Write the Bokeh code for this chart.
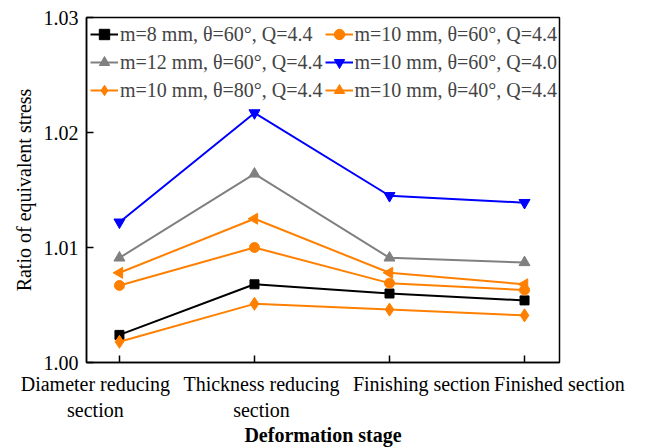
import math
from bokeh.plotting import figure
from bokeh.models import FixedTicker, Legend, LegendItem, LinearAxis
from bokeh.embed import file_html
from bokeh.resources import INLINE

# ---- data ----
stages = ["Diameter reducing\nsection", "Thickness reducing\nsection",
          "Finishing section", "Finished section"]
stage_idx = [0, 1, 2, 3]

m8_t60_q44 = [1.0024, 1.0068, 1.0060, 1.0054]
m10_t60_q44 = [1.0067, 1.0100, 1.0069, 1.0063]
m12_t60_q44 = [1.0091, 1.0164, 1.0091, 1.0087]
m10_t60_q40 = [1.0122, 1.0217, 1.0145, 1.0139]
m10_t80_q44 = [1.0018, 1.0051, 1.0046, 1.0041]
m10_t40_q44 = [1.0078, 1.0125, 1.0078, 1.0068]

labels = ["m=8 mm, θ=60°, Q=4.4", "m=10 mm, θ=60°, Q=4.4",
          "m=12 mm, θ=60°, Q=4.4", "m=10 mm, θ=60°, Q=4.0",
          "m=10 mm, θ=80°, Q=4.4", "m=10 mm, θ=40°, Q=4.4"]
y_ticks = [1.00, 1.01, 1.02, 1.03]

# layout: horizontal shift of each category's label text (in category units)
label_shift = [-0.178, 0.052, 0.237, 0.258]

FONT = "Liberation Serif"
ORANGE = "#FF8000"

p = figure(width=646, height=448, x_range=(-0.244, 3.259), y_range=(1.0, 1.03),
           output_backend="svg", toolbar_location=None,
           min_border_left=86, min_border_right=87, min_border_top=17,
           min_border_bottom=83)
p.grid.visible = False
p.outline_line_color = "black"
p.outline_line_width = 1.5
p.background_fill_color = "white"
p.border_fill_color = "white"

series = [
    (m8_t60_q44, "black", "square", 9, 0.0),
    (m10_t60_q44, ORANGE, "circle", 10, 0.0),
    (m12_t60_q44, "#808080", "triangle", 11, 0.0),
    (m10_t60_q40, "#0000FF", "inverted_triangle", 11, 0.0),
    (m10_t80_q44, ORANGE, "diamond", 13, 0.0),
    (m10_t40_q44, ORANGE, "triangle", 11, math.pi / 2),
]

items = []
for (vals, col, mk, sz, ang), lab in zip(series, labels):
    ln = p.line(stage_idx, vals, line_color=col, line_width=2)
    sc = p.scatter(stage_idx, vals, marker=mk, size=sz, angle=ang,
                   angle_units="rad", fill_color=col, line_color=col)
    items.append(LegendItem(label=lab, renderers=[ln, sc]))

# column-major order for 2 columns: col1 = items 0,2,4 ; col2 = 1,3,5
ordered = [items[0], items[2], items[4], items[1], items[3], items[5]]
legend = Legend(items=ordered, ncols=2, location="top_left",
                label_text_font=FONT, label_text_font_size="20px",
                label_standoff=2, glyph_width=28, glyph_height=26,
                label_height=26, spacing=2, padding=4, margin=0,
                border_line_alpha=0, background_fill_alpha=0)
p.add_layout(legend, "center")

def style_axis(ax):
    ax.axis_line_color = "black"
    ax.axis_line_width = 1.5
    ax.major_tick_line_color = "black"
    ax.major_tick_line_width = 1.5
    ax.major_tick_in = 7
    ax.major_tick_out = 0
    ax.minor_tick_line_color = None
    ax.major_label_text_font = FONT
    ax.major_label_text_font_size = "20px"
    ax.major_label_text_color = "black"
    ax.axis_label_text_font = FONT
    ax.axis_label_text_font_size = "20px"
    ax.axis_label_text_color = "black"

style_axis(p.xaxis[0])
style_axis(p.yaxis[0])

# main x axis: ticks only
p.xaxis[0].ticker = FixedTicker(ticks=stage_idx)
p.xaxis[0].major_label_overrides = {i: "" for i in stage_idx}
p.xaxis[0].major_label_standoff = 0
p.xaxis[0].major_label_text_font_size = "1px"

# second x axis below: the category texts, placed like the original
lab_pos = [i + s for i, s in zip(stage_idx, label_shift)]
xlab = LinearAxis(ticker=FixedTicker(ticks=lab_pos))
style_axis(xlab)
xlab.axis_line_color = None
xlab.major_tick_line_color = None
xlab.major_label_overrides = {pos: s for pos, s in zip(lab_pos, stages)}
xlab.major_label_standoff = 10
xlab.axis_label = "Deformation stage"
xlab.axis_label_text_font_style = "bold"
xlab.axis_label_standoff = 0
p.add_layout(xlab, "below")

p.yaxis.ticker = FixedTicker(ticks=y_ticks)
p.yaxis.major_label_overrides = {t: f"{t:.2f}" for t in y_ticks}
p.yaxis.axis_label = "Ratio of equivalent stress"
p.yaxis.axis_label_text_font_style = "normal"
p.yaxis.major_label_standoff = 8
p.yaxis.axis_label_standoff = 6

open("out.html", "w").write(file_html(p, INLINE))
